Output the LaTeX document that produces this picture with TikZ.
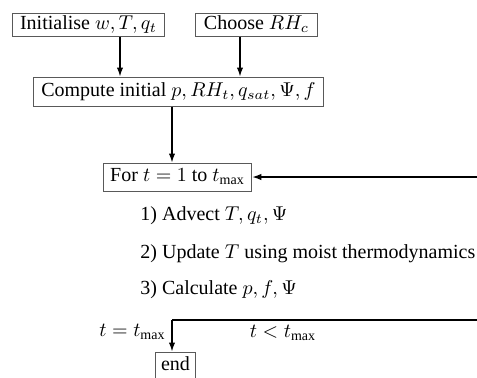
\documentclass[tikz,border=0pt]{standalone}
\usepackage{fontspec}
\setmainfont{Liberation Serif}
\usetikzlibrary{arrows.meta}
\begin{document}
\begin{tikzpicture}[x=0.5pt,y=-0.5pt,
  box/.style={draw=black!65, line width=0.5pt, inner xsep=4pt, inner ysep=0pt,
    minimum height=11.5pt, text height=6.8pt, text depth=2pt, fill=white},
  flow/.style={draw=black, line width=0.65pt, -{Latex[length=4.5pt,width=3.2pt]}},
  plain/.style={draw=black, line width=0.65pt},
  steptext/.style={anchor=west, inner sep=0pt},
  cond/.style={inner sep=0pt}
]
\fill[white] (0,0) rectangle (477,377);
\clip (0,0) rectangle (477,377);

% boxes
\node[box] (init) at (88.5,24.5) {Initialise $w, T, q_t$};
\node[box] (choose) at (256.5,24.5) {Choose $RH_c$};
\node[box, minimum height=14.5pt] (compute) at (178.5,91.5) {Compute initial $p, RH_t, q_{sat}, \Psi, f$};
\node[box, minimum height=14pt, inner xsep=3.5pt] (loop) at (177.5,177) {For $t=1$ to $t_{\max}$};
\node[box, minimum height=14pt, inner xsep=3pt] (end) at (175.5,366) {end};

% loop body
\node[steptext] (s1) at (140,216) {1) Advect $T, q_t, \Psi$};
\node[steptext] (s2) at (140,254) {2) Update $T$ using moist thermodynamics};
\node[steptext] (s3) at (140,290) {3) Calculate $p, f, \Psi$};

% branch point and the ends running off the right edge
\coordinate (split) at (172,320);
\coordinate (outR) at (477,320);
\coordinate (backR) at (477,177);

% conditions
\node[cond, anchor=east] (done) at (166,332) {$t=t_{\max}$};
\node[cond] (again) at (283,333) {$t<t_{\max}$};

% connectors
\draw[flow] (init.south -| 120,0) -- (compute.north -| 120,0);
\draw[flow] (choose.south -| 240,0) -- (compute.north -| 240,0);
\draw[flow] (compute.south -| split) -- (loop.north -| split);
\draw[flow] (backR) -- (loop.east);
\draw[plain] (outR) -- (split);
\draw[flow] (split) -- (end.north -| split);
\end{tikzpicture}
\end{document}
